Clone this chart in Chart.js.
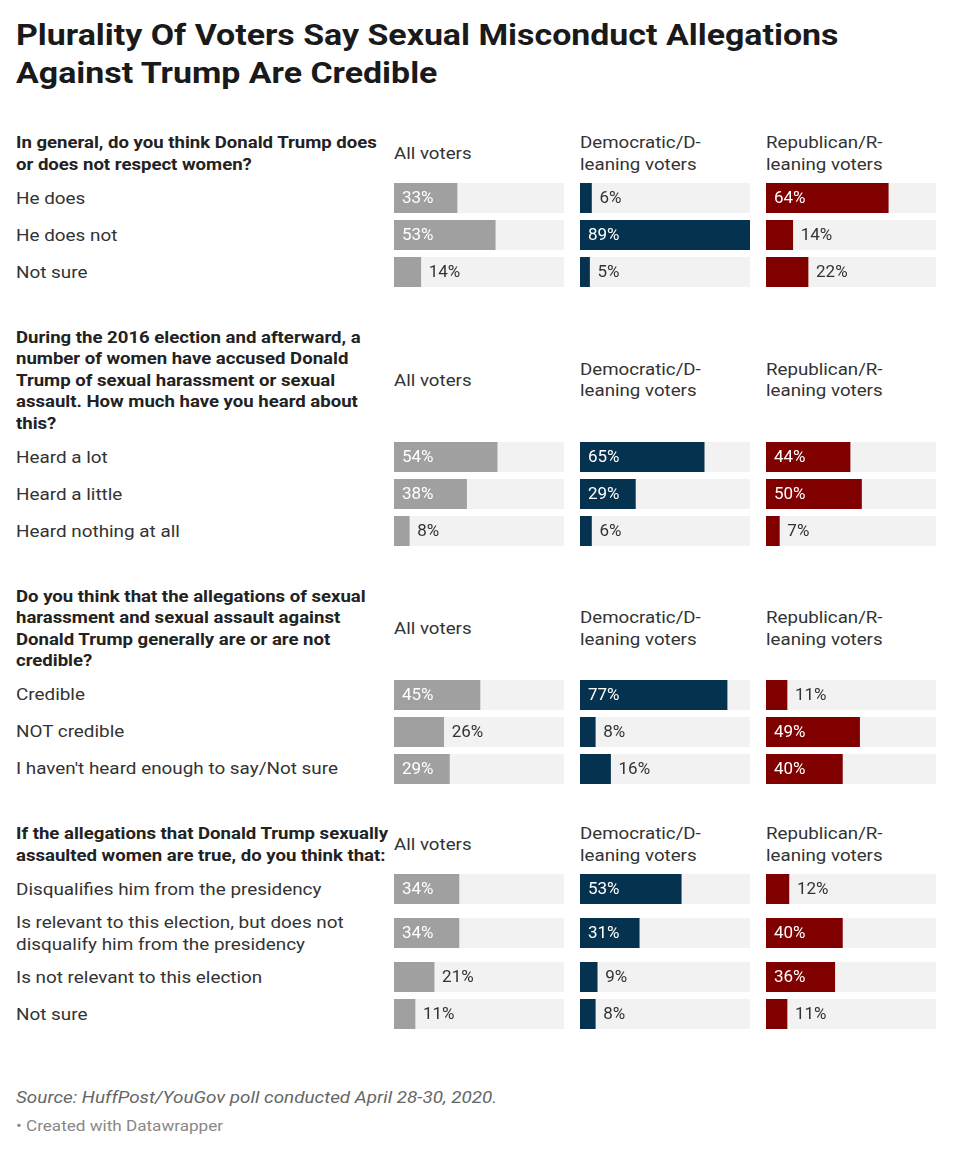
<!DOCTYPE html>
<html>
<head>
<meta charset="utf-8">
<script src="https://cdn.jsdelivr.net/npm/chart.js@4/dist/chart.umd.min.js"></script>
<style>
  html, body { margin: 0; padding: 0; background: #fff; }
  body { width: 960px; height: 1150px; font-family: Roboto, "Noto Sans", sans-serif; color: #333; overflow: hidden; }
  #root { position: relative; padding: 16px 0 0 16px; }
  h1 { margin: 0; font-size: 30px; line-height: 38px; font-weight: 700; color: #1a1a1a; }
  .sx { display: inline-block; transform-origin: 0 50%; white-space: pre-line; }
  h1 .sx { transform: scaleX(1.13); }
  .section { margin-top: 36px; }
  .section.first { margin-top: 40px; }
  .hdr { display: flex; align-items: center; margin-bottom: 4.5px; }
  .q { width: 378px; font-size: 16px; font-weight: 700; line-height: 21.5px; color: #222; }
  .q .sx { transform: scaleX(1.16); }
  .ch { width: 170px; margin-right: 16px; font-size: 17px; line-height: 21.5px; color: #333; }
  .ch .sx { transform: scaleX(1.1); }
  .row { display: flex; align-items: center; padding: 3.5px 0; }
  .lab { width: 378px; font-size: 17px; line-height: 21.5px; color: #333; padding-top: 1px; }
  .lab .sx { transform: scaleX(1.11); }
  .cell { width: 170px; height: 30px; margin-right: 16px; }
  .cell canvas { display: block; }
  .src { margin-top: 53px; font-size: 17px; font-style: italic; color: #666; line-height: 22px; }
  .src .sx { transform: scaleX(1.11); }
  .dw { margin-top: 8px; font-size: 15px; color: #888; line-height: 20px; }
  .dw .sx { transform: scaleX(1.14); }
</style>
</head>
<body>
<div id="root">
  <h1><span class="sx">Plurality Of Voters Say Sexual Misconduct Allegations<br>Against Trump Are Credible</span></h1>
  <div id="sections"></div>
  <div class="src"><span class="sx">Source: HuffPost/YouGov poll conducted April 28-30, 2020.</span></div>
  <div class="dw"><span class="sx">• Created with Datawrapper</span></div>
</div>
<script>
// ---- data ----
const columnHeaders = ["All voters", "Democratic/D-\nleaning voters", "Republican/R-\nleaning voters"];
const columnColors = ["#a0a0a0", "#05334f", "#800000"];
const scaleMax = 89;

const questions = [
  "In general, do you think Donald Trump does\nor does not respect women?",
  "During the 2016 election and afterward, a\nnumber of women have accused Donald\nTrump of sexual harassment or sexual\nassault. How much have you heard about\nthis?",
  "Do you think that the allegations of sexual\nharassment and sexual assault against\nDonald Trump generally are or are not\ncredible?",
  "If the allegations that Donald Trump sexually\nassaulted women are true, do you think that:"
];

const q1Answers = ["He does", "He does not", "Not sure"];
const q1All = [33, 53, 14];
const q1Dem = [6, 89, 5];
const q1Rep = [64, 14, 22];

const q2Answers = ["Heard a lot", "Heard a little", "Heard nothing at all"];
const q2All = [54, 38, 8];
const q2Dem = [65, 29, 6];
const q2Rep = [44, 50, 7];

const q3Answers = ["Credible", "NOT credible", "I haven't heard enough to say/Not sure"];
const q3All = [45, 26, 29];
const q3Dem = [77, 8, 16];
const q3Rep = [11, 49, 40];

const q4Answers = ["Disqualifies him from the presidency", "Is relevant to this election, but does not\ndisqualify him from the presidency", "Is not relevant to this election", "Not sure"];
const q4All = [34, 34, 21, 11];
const q4Dem = [53, 31, 9, 8];
const q4Rep = [12, 40, 36, 11];

const sectionAnswers = [q1Answers, q2Answers, q3Answers, q4Answers];
const sectionValues = [
  [q1All, q1Dem, q1Rep],
  [q2All, q2Dem, q2Rep],
  [q3All, q3Dem, q3Rep],
  [q4All, q4Dem, q4Rep]
];

// ---- plugins ----
const trackPlugin = {
  id: 'track',
  beforeDatasetsDraw(chart) {
    const a = chart.chartArea, ctx = chart.ctx;
    ctx.save();
    ctx.fillStyle = '#f2f2f2';
    ctx.fillRect(a.left, a.top, a.right - a.left, a.bottom - a.top);
    ctx.restore();
  }
};
const valueLabelPlugin = {
  id: 'valueLabel',
  afterDatasetsDraw(chart) {
    const ctx = chart.ctx;
    const bar = chart.getDatasetMeta(0).data[0];
    const v = chart.data.datasets[0].data[0];
    const txt = v + '%';
    ctx.save();
    ctx.font = '17px Roboto';
    ctx.textBaseline = 'middle';
    ctx.textAlign = 'left';
    const w = ctx.measureText(txt).width;
    const left = chart.scales.x.getPixelForValue(0);
    const barW = bar.x - left;
    if (barW >= w + 20) {
      ctx.fillStyle = '#ffffff';
      ctx.fillText(txt, left + 8, bar.y + 1);
    } else {
      ctx.fillStyle = '#333333';
      ctx.fillText(txt, bar.x + 8, bar.y + 1);
    }
    ctx.restore();
  }
};

function makeCell(parent, value, color) {
  const div = document.createElement('div');
  div.className = 'cell';
  const cv = document.createElement('canvas');
  cv.width = 170; cv.height = 30;
  cv.style.width = '170px'; cv.style.height = '30px';
  div.appendChild(cv);
  parent.appendChild(div);
  new Chart(cv, {
    type: 'bar',
    data: { labels: [''], datasets: [{ data: [value], backgroundColor: color, borderWidth: 0, barPercentage: 1, categoryPercentage: 1 }] },
    options: {
      indexAxis: 'y', responsive: false, animation: false, events: [],
      layout: { padding: 0 },
      plugins: { legend: { display: false }, tooltip: { enabled: false } },
      scales: { x: { min: 0, max: scaleMax, display: false }, y: { display: false } }
    },
    plugins: [trackPlugin, valueLabelPlugin]
  });
}

function textBlock(cls, text) {
  const d = document.createElement('div');
  d.className = cls;
  const s = document.createElement('span');
  s.className = 'sx';
  s.textContent = text;
  d.appendChild(s);
  return d;
}

const host = document.getElementById('sections');
questions.forEach((q, si) => {
  const sec = document.createElement('div');
  sec.className = 'section' + (si === 0 ? ' first' : '');
  const hdr = document.createElement('div');
  hdr.className = 'hdr';
  hdr.appendChild(textBlock('q', q));
  columnHeaders.forEach(h => hdr.appendChild(textBlock('ch', h)));
  sec.appendChild(hdr);
  sectionAnswers[si].forEach((ans, ri) => {
    const row = document.createElement('div');
    row.className = 'row';
    row.appendChild(textBlock('lab', ans));
    sectionValues[si].forEach((vals, ci) => makeCell(row, vals[ri], columnColors[ci]));
    sec.appendChild(row);
  });
  host.appendChild(sec);
});
</script>
</body>
</html>
